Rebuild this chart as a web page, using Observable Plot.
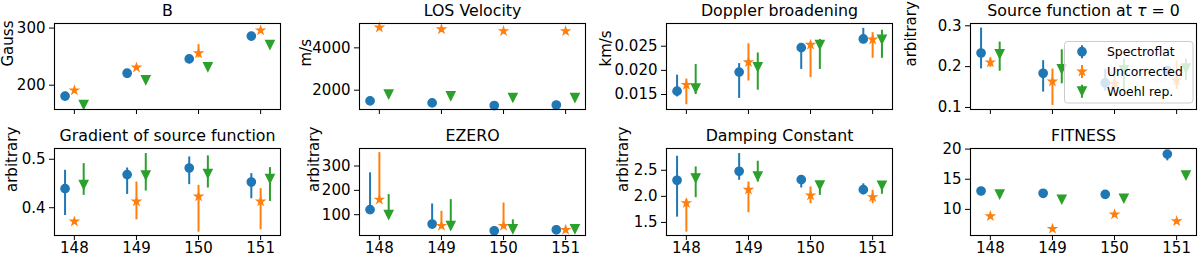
<!DOCTYPE html>
<html><head><meta charset="utf-8">
<script src="https://cdn.jsdelivr.net/npm/d3@7"></script>
<script src="https://cdn.jsdelivr.net/npm/@observablehq/plot@0.6"></script>
<style>
body{margin:0;background:#fff;font-family:"DejaVu Sans",sans-serif;}
#wrap{position:relative;width:1200px;height:258px;overflow:hidden;background:#fff;}
#wrap svg.plotsvg{position:absolute;}
#legend{position:absolute;left:1064px;top:41px;}
</style></head><body><div id="wrap"></div>
<script>
// ---------- data ----------
const runs = [148, 149, 150, 151];
const seriesNames = ["Spectroflat", "Uncorrected", "Woehl rep."];
const seriesColors = ["#1f77b4", "#ff7f0e", "#2ca02c"];
const seriesOffsets = [-0.15, 0, 0.15];

// B (Gauss)
const bSpec = [181, 221, 246, 286];
const bUnc = [191, 231, 256, 296];
const bUncLo = [189, 229, 248, 294];
const bUncHi = [193, 233, 271, 298];
const bWoehl = [166, 209, 232, 271];
const bTicks = [200, 300];

// LOS velocity (m/s)
const vSpec = [1495, 1400, 1275, 1300];
const vUnc = [4963, 4880, 4790, 4790];
const vWoehl = [1810, 1730, 1650, 1640];
const vTicks = [2000, 4000];

// Doppler broadening (km/s)
const dSpec = [0.0157, 0.01965, 0.0247, 0.0265];
const dSpecLo = [0.0145, 0.0142, 0.0202, 0.0257];
const dSpecHi = [0.0190, 0.0214, 0.0254, 0.0287];
const dUnc = [0.0170, 0.0217, 0.0253, 0.0264];
const dUncLo = [0.0129, 0.0178, 0.0185, 0.0225];
const dUncHi = [0.0182, 0.0255, 0.0258, 0.0278];
const dWoehl = [0.0163, 0.0207, 0.0253, 0.0264];
const dWoehlLo = [0.0150, 0.0159, 0.0202, 0.0225];
const dWoehlHi = [0.0212, 0.0236, 0.0264, 0.0283];
const dTicks = [0.015, 0.020, 0.025];

// Source function at tau = 0
const sSpec = [0.2333, 0.1838, 0.160, 0.190];
const sSpecLo = [0.1944, 0.1376, 0.140, 0.178];
const sSpecHi = [0.2944, 0.2146, 0.194, 0.200];
const sUnc = [0.2105, 0.1636, 0.158, 0.166];
const sUncLo = [0.1984, 0.105, 0.1376, 0.144];
const sUncHi = [0.221, 0.194, 0.198, 0.214];
const sWoehl = [0.2308, 0.1944, 0.192, 0.196];
const sWoehlLo = [0.1887, 0.158, 0.1376, 0.166];
const sWoehlHi = [0.26, 0.2413, 0.2186, 0.2186];
const sTicks = [0.1, 0.2, 0.3];

// Gradient of source function
const gSpec = [0.4393, 0.4683, 0.482, 0.453];
const gSpecLo = [0.384, 0.4275, 0.4476, 0.4186];
const gSpecHi = [0.4772, 0.482, 0.5048, 0.4704];
const gUnc = [0.3716, 0.413, 0.4234, 0.413];
const gUncLo = [0.368, 0.375, 0.3495, 0.3545];
const gUncHi = [0.375, 0.453, 0.4462, 0.4393];
const gWoehl = [0.4476, 0.4669, 0.4704, 0.46];
const gWoehlLo = [0.4255, 0.4344, 0.4406, 0.413];
const gWoehlHi = [0.491, 0.5118, 0.507, 0.4828];
const gTicks = [0.4, 0.5];

// EZERO
const eSpec = [120.7, 61.6, 33.9, 38];
const eSpecHi = [272, 144, 40, 40];
const eUnc = [162, 54.5, 54.5, 38];
const eUncHi = [355, 113.6, 148, 42];
const eWoehl = [100, 54.5, 41, 41];
const eWoehlHi = [182.6, 162, 79, 45];
const eTicks = [100, 200, 300];

// Damping constant
const cSpec = [2.308, 2.481, 2.32, 2.128];
const cSpecLo = [1.602, 2.308, 2.16, 2.03];
const cSpecHi = [2.769, 2.82, 2.385, 2.24];
const cUnc = [1.872, 2.128, 2.019, 1.987];
const cUncLo = [1.314, 1.686, 1.86, 1.86];
const cUncHi = [1.94, 2.275, 2.18, 2.115];
const cWoehl = [2.35, 2.385, 2.212, 2.21];
const cWoehlLo = [1.975, 2.275, 2.019, 2.04];
const cWoehlHi = [2.564, 2.673, 2.275, 2.275];
const cTicks = [1.5, 2.0, 2.5];

// FITNESS
const fSpec = [13.05, 12.67, 12.5, 19.17];
const fSpecLo = [13.05, 12.67, 12.5, 18.05];
const fUnc = [8.88, 6.78, 9.17, 8.05];
const fUncLo = [8.88, 6.78, 8.7, 8.05];
const fUncHi = [8.88, 6.78, 9.6, 8.05];
const fWoehl = [12.5, 11.67, 11.83, 15.67];
const fTicks = [10, 15, 20];

// ---------- symbols (matplotlib-like) ----------
const starSym = {draw(ctx, size) {
  const R = Math.sqrt(size / Math.PI), r = R * 0.381966;
  for (let i = 0; i < 10; i++) {
    const a = -Math.PI / 2 + i * Math.PI / 5, rr = i % 2 ? r : R;
    const x = rr * Math.cos(a), y = rr * Math.sin(a);
    i ? ctx.lineTo(x, y) : ctx.moveTo(x, y);
  }
  ctx.closePath();
}};
const triDownSym = {draw(ctx, size) {
  const h = Math.sqrt(size / Math.PI);
  ctx.moveTo(-h, -h); ctx.lineTo(h, -h); ctx.lineTo(0, h); ctx.closePath();
}};
const seriesSymbols = ["circle", starSym, triDownSym];
const seriesR = [4.2, 4.0, 4.3];

const TICK_FONT = 15, TITLE_FONT = 15.8, LABEL_FONT = 15, LEGEND_FONT = 12.4;

// ---------- panels ----------
const panels = [
  {title: "B", ylabel: "Gauss", off: 46, domain: [157.5, 308], ticks: bTicks, fmt: "d",
   s: [[bSpec], [bUnc, bUncLo, bUncHi], [bWoehl]]},
  {title: "LOS Velocity", ylabel: "m/s", off: 53, domain: [1088, 5150], ticks: vTicks, fmt: "d",
   s: [[vSpec], [vUnc], [vWoehl]]},
  {title: "Doppler broadening", ylabel: "km/s", off: 60, domain: [0.0119, 0.0297], ticks: dTicks, fmt: ".3f",
   s: [[dSpec, dSpecLo, dSpecHi], [dUnc, dUncLo, dUncHi], [dWoehl, dWoehlLo, dWoehlHi]]},
  {title: "Source function at τ = 0", ylabel: "arbitrary", off: 59, domain: [0.095, 0.3056], ticks: sTicks, fmt: ".1f",
   s: [[sSpec, sSpecLo, sSpecHi], [sUnc, sUncLo, sUncHi], [sWoehl, sWoehlLo, sWoehlHi]]},
  {title: "Gradient of source function", ylabel: "arbitrary", off: 42, domain: [0.3427, 0.5222], ticks: gTicks, fmt: ".1f",
   s: [[gSpec, gSpecLo, gSpecHi], [gUnc, gUncLo, gUncHi], [gWoehl, gWoehlLo, gWoehlHi]]},
  {title: "EZERO", ylabel: "arbitrary", off: 45, domain: [14.5, 372], ticks: eTicks, fmt: "d",
   s: [[eSpec, null, eSpecHi], [eUnc, null, eUncHi], [eWoehl, null, eWoehlHi]]},
  {title: "Damping Constant", ylabel: "arbitrary", off: 43, domain: [1.25, 2.917], ticks: cTicks, fmt: ".1f",
   s: [[cSpec, cSpecLo, cSpecHi], [cUnc, cUncLo, cUncHi], [cWoehl, cWoehlLo, cWoehlHi]]},
  {title: "FITNESS", ylabel: null, off: 0, domain: [5.67, 20.1], ticks: fTicks, fmt: "d",
   s: [[fSpec, fSpecLo], [fUnc, fUncLo, fUncHi], [fWoehl]]}
];

const frameLefts = [54, 359, 666, 970];
const frameW = 226;
const wrap = document.getElementById("wrap");

panels.forEach((p, k) => {
  const col = k % 4, row = Math.floor(k / 4);
  const svgLeft = col === 0 ? 0 : frameLefts[col] - 70;
  const marginLeft = frameLefts[col] - svgLeft;
  const marginRight = 4;
  const top = row === 0 ? 0 : 125;
  const height = row === 0 ? 129 : 133;
  const marginBottom = row === 0 ? 20 : 23;
  const marks = [];
  p.s.forEach((arr, si) => {
    const [vals, lo, hi] = arr;
    const data = runs.map((r, i) => ({
      x: r + seriesOffsets[si], v: vals[i],
      lo: lo ? lo[i] : vals[i], hi: hi ? hi[i] : vals[i]
    }));
    marks.push(Plot.ruleX(data, {x: "x", y1: "lo", y2: "hi", stroke: seriesColors[si], strokeWidth: 2}));
    marks.push(Plot.dot(data, {x: "x", y: "v", r: seriesR[si], symbol: seriesSymbols[si],
      fill: seriesColors[si], stroke: seriesColors[si], strokeWidth: 1.3}));
  });
  marks.push(Plot.axisY({ticks: p.ticks, tickFormat: p.fmt, tickSize: 5, tickPadding: 4, label: null, fontSize: TICK_FONT}));
  marks.push(Plot.axisX({ticks: runs, tickFormat: row === 1 ? "d" : () => "", tickSize: 5, tickPadding: 2, label: null, fontSize: TICK_FONT}));
  marks.push(Plot.text([p.title], {text: d => d, frameAnchor: "top", dy: -8, lineAnchor: "bottom", fontSize: TITLE_FONT, fill: "black"}));
  if (p.ylabel) marks.push(Plot.text([p.ylabel], {text: d => d, frameAnchor: "left", rotate: -90, dx: -p.off, lineAnchor: "middle", fontSize: LABEL_FONT, fill: "black"}));
  marks.push(Plot.frame({stroke: "black", strokeWidth: 1.1}));
  const svg = Plot.plot({
    width: marginLeft + frameW + marginRight, height,
    marginLeft, marginRight, marginTop: 23, marginBottom,
    x: {domain: [147.68, 151.32]},
    y: {domain: p.domain},
    style: {fontFamily: "DejaVu Sans", fontSize: TICK_FONT + "px", color: "black", background: "transparent", overflow: "visible"},
    marks
  });
  svg.classList.add("plotsvg");
  svg.style.left = svgLeft + "px";
  svg.style.top = top + "px";
  wrap.appendChild(svg);
  // italic tau in the mathtext title
  d3.select(svg).selectAll("text").each(function() {
    const t = this.textContent;
    if (t.includes("τ") && this.childElementCount === 0) {
      const parts = t.split("τ");
      const sel = d3.select(this); sel.text("");
      sel.append("tspan").text(parts[0]);
      sel.append("tspan").attr("font-style", "italic").text("τ");
      sel.append("tspan").text(parts[1]);
    }
  });
});

// ---------- legend (inside Source function panel) ----------
const lg = d3.select(wrap).append("svg").attr("id", "legend")
  .attr("width", 130).attr("height", 63);
lg.append("rect").attr("x", 0.5).attr("y", 0.5).attr("width", 128.5).attr("height", 61.5)
  .attr("rx", 3).attr("fill", "white").attr("fill-opacity", 0.8).attr("stroke", "#cccccc");
seriesNames.forEach((name, i) => {
  const cy = 10.7 + i * 19.8;
  const g = lg.append("g").attr("transform", `translate(18,${cy})`);
  g.append("line").attr("y1", -6.5).attr("y2", 6.5).attr("stroke", seriesColors[i]).attr("stroke-width", 2);
  const sym = typeof seriesSymbols[i] === "string" ? d3.symbolCircle : seriesSymbols[i];
  g.append("path").attr("d", d3.symbol(sym, Math.PI * seriesR[i] * seriesR[i])())
    .attr("fill", seriesColors[i]).attr("stroke", seriesColors[i]).attr("stroke-width", 1.3);
  lg.append("text").attr("x", 43).attr("y", cy + 4.5).attr("font-family", "DejaVu Sans")
    .attr("font-size", LEGEND_FONT).attr("fill", "black").text(name);
});
</script></body></html>
